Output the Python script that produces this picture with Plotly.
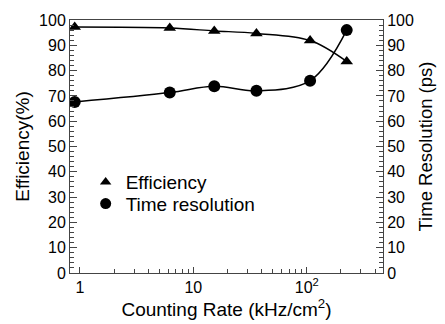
import plotly.graph_objects as go

rate = [0.90, 6.2, 15.3, 36, 107, 225]
efficiency = [97.2, 96.8, 95.7, 94.7, 91.9, 83.6]
time_res = [67.6, 71.3, 73.8, 72.0, 76.0, 96.0]

x_tickvals = [1, 10, 100]
x_ticktext = ["1", "10", "10<sup>2</sup>"]
x_minor = [2, 3, 4, 5, 6, 7, 8, 9, 20, 30, 40, 50, 60, 70, 80, 90, 200, 300, 400]
y_ticks = list(range(0, 101, 10))

font = "Liberation Sans, Arial, sans-serif"

fig = go.Figure()
fig.add_trace(go.Scatter(
    x=rate, y=efficiency, name="Efficiency", mode="lines+markers", showlegend=False,
    line=dict(color="black", width=1.5, shape="spline", smoothing=1),
    marker=dict(symbol="triangle-up", size=11, color="black"),
))
fig.add_trace(go.Scatter(
    x=rate, y=time_res, name="Time resolution", mode="lines+markers", yaxis="y2", showlegend=False,
    line=dict(color="black", width=1.5, shape="spline", smoothing=1),
    marker=dict(symbol="circle", size=12, color="black"),
))
# legend entries (markers only)
fig.add_trace(go.Scatter(
    x=[None], y=[None], name="Efficiency", mode="markers", legend="legend",
    marker=dict(symbol="triangle-up", size=10, color="black"),
))
fig.add_trace(go.Scatter(
    x=[None], y=[None], name="Time resolution", mode="markers", legend="legend2",
    marker=dict(symbol="circle", size=11, color="black"),
))

axis_common = dict(showline=True, linecolor="#444", linewidth=1, ticks="inside",
                   tickcolor="#444", showgrid=False, zeroline=False,
                   tickfont=dict(size=16, color="black", family=font))

leg_common = dict(xanchor="left", yanchor="top", bgcolor="rgba(0,0,0,0)",
                  font=dict(size=19, family=font), itemsizing="trace")

fig.update_layout(
    width=445, height=324,
    margin=dict(l=70, r=59, t=15, b=51),
    paper_bgcolor="white", plot_bgcolor="white",
    font=dict(family=font, color="black"),
    showlegend=True,
    legend=dict(x=0.05, y=0.434, **leg_common),
    legend2=dict(x=0.05, y=0.349, **leg_common),
    xaxis=dict(type="log", range=[-0.087, 2.672], tickvals=x_tickvals, ticktext=x_ticktext,
               ticklen=6, mirror=True,
               minor=dict(ticks="inside", ticklen=4, tickcolor="#444", showgrid=False,
                          tickmode="array", tickvals=x_minor),
               title=dict(text="Counting Rate (kHz/cm<sup>2</sup>)", font=dict(size=19), standoff=2),
               **axis_common),
    yaxis=dict(range=[0, 100], tickvals=y_ticks, ticklen=7,
               minor=dict(ticks="inside", ticklen=4, dtick=2, tickcolor="#444"),
               title=dict(text="Efficiency(%)", font=dict(size=19), standoff=4),
               **axis_common),
    yaxis2=dict(range=[0, 100], tickvals=y_ticks, ticklen=7, overlaying="y", side="right",
                minor=dict(ticks="inside", ticklen=4, dtick=2, tickcolor="#444"),
                title=dict(text="Time Resolution (ps)", font=dict(size=18.5), standoff=6),
                **axis_common),
)

fig.write_html("out.html")
